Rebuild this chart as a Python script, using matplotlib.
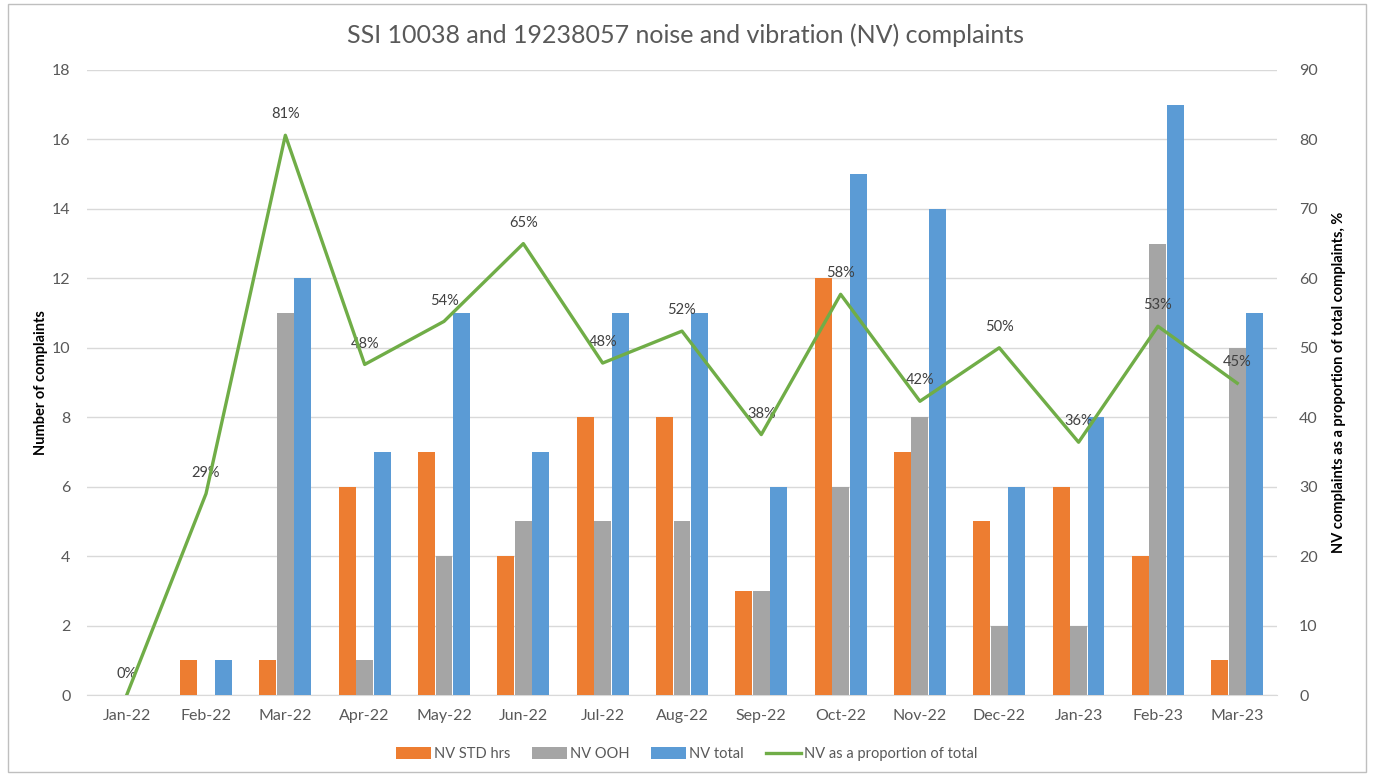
import matplotlib.pyplot as plt
from matplotlib.patches import Rectangle
import numpy as np

months = ["Jan-22", "Feb-22", "Mar-22", "Apr-22", "May-22", "Jun-22", "Jul-22", "Aug-22",
          "Sep-22", "Oct-22", "Nov-22", "Dec-22", "Jan-23", "Feb-23", "Mar-23"]
std_hrs = [0, 1, 1, 6, 7, 4, 8, 8, 3, 12, 7, 5, 6, 4, 1]
ooh = [0, 0, 11, 1, 4, 5, 5, 5, 3, 6, 8, 2, 2, 13, 10]
total = [0, 1, 12, 7, 11, 7, 11, 11, 6, 15, 14, 6, 8, 17, 11]
pct = [0, 29, 80.6, 47.6, 53.8, 65, 47.8, 52.4, 37.5, 57.7, 42.3, 50, 36.4, 53.1, 44.9]

plt.rcParams['font.family'] = ['Lato', 'DejaVu Sans']
txt = "#595959"

fig = plt.figure(figsize=(13.73, 7.75), dpi=100)
ax = fig.add_axes([0.0634, 0.1032, 0.8666, 0.8065])
ax2 = ax.twinx()

x = np.arange(len(months))
w = 0.22
ax.bar(x - w, std_hrs, w * 0.97, color="#ED7D31", label="NV STD hrs", zorder=3)
ax.bar(x, ooh, w * 0.97, color="#A5A5A5", label="NV OOH", zorder=3)
ax.bar(x + w, total, w * 0.97, color="#5B9BD5", label="NV total", zorder=3)

ax2.plot(x, pct, color="#70AD47", lw=2.4, label="NV as a proportion of total", zorder=4)
for xi, p in zip(x, pct):
    ax2.annotate(f"{p:.0f}%", (xi, p), xytext=(0, 15), textcoords="offset points",
                 ha="center", va="center", fontsize=10.5, color="#404040")

ax.set_xlim(-0.5, len(months) - 0.5)
ax.set_ylim(0, 18)
ax.set_yticks(range(0, 19, 2))
ax2.set_ylim(0, 90)
ax2.set_yticks(range(0, 91, 10))
ax.set_xticks(x)
ax.set_xticklabels(months)

ax.grid(axis="y", color="#D9D9D9", lw=1, zorder=0)
for a in (ax, ax2):
    for s in a.spines.values():
        s.set_visible(False)
    a.tick_params(length=0, labelsize=11.5, colors=txt)
ax.spines["bottom"].set_visible(True)
ax.spines["bottom"].set_color("#D9D9D9")
ax.tick_params(axis="x", pad=10)
ax.tick_params(axis="y", pad=12)
ax2.tick_params(axis="y", pad=16)

ax.set_ylabel("Number of complaints", fontsize=10.5, fontweight="bold", labelpad=3)
ax2.set_ylabel("NV complaints as a proportion of total complaints, %", fontsize=10.5,
               fontweight="bold", labelpad=10)

fig.suptitle("SSI 10038 and 19238057 noise and vibration (NV) complaints",
             x=0.499, y=0.97, fontsize=18, color=txt)

h1, l1 = ax.get_legend_handles_labels()
h2, l2 = ax2.get_legend_handles_labels()
fig.legend(h1 + h2, l1 + l2, loc="center", bbox_to_anchor=(0.5, 0.027), ncol=4,
           frameon=False, fontsize=10.5, labelcolor=txt, handlelength=2.4,
           handleheight=0.9, handletextpad=0.2, columnspacing=1.5)

fig.patches.append(Rectangle((0.006, 0.004), 0.989, 0.991, transform=fig.transFigure,
                             fill=False, edgecolor="#BFBFBF", lw=1))

plt.savefig("out.png")
